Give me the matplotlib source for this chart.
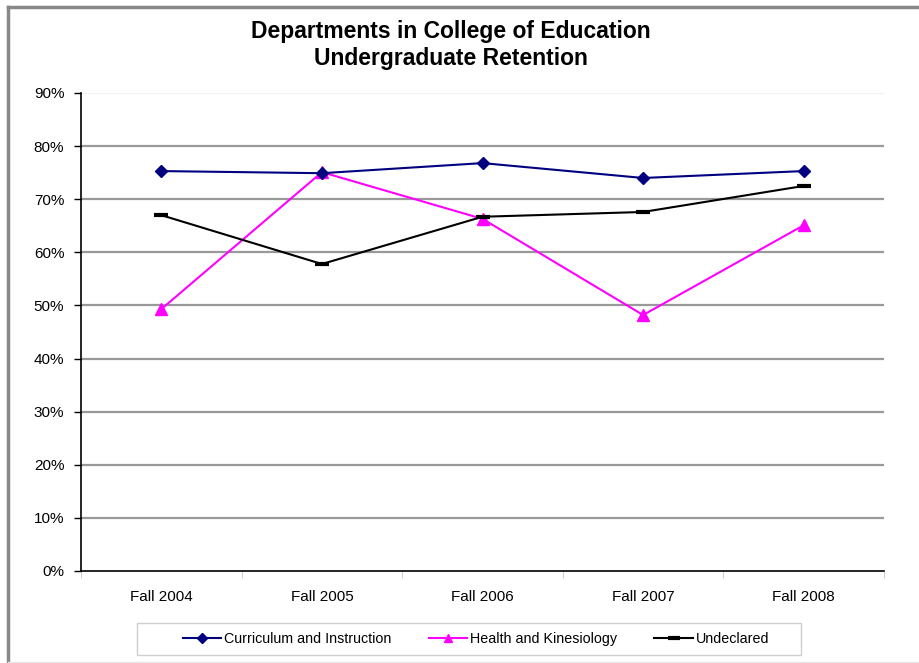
import matplotlib
matplotlib.use("Agg")
import matplotlib.pyplot as plt
from matplotlib.lines import Line2D
from matplotlib.patches import Rectangle

plt.rcParams['font.family'] = ['Liberation Sans', 'DejaVu Sans']

categories = ["Fall 2004", "Fall 2005", "Fall 2006", "Fall 2007", "Fall 2008"]
curriculum = [75.3, 74.9, 76.8, 74.0, 75.3]
health = [49.3, 75.1, 66.3, 48.2, 65.1]
undeclared = [67.0, 57.8, 66.7, 67.6, 72.5]
y_ticks = [0, 10, 20, 30, 40, 50, 60, 70, 80, 90]
y_labels = [f"{v}%" for v in y_ticks]

W, H = 920, 663
fig = plt.figure(figsize=(9.2, 6.63), dpi=100)
ax = fig.add_axes([81/W, 1-571/H, (884-81)/W, (571-93)/H])

x = list(range(len(categories)))
ax.plot(x, curriculum, color='#000080', lw=1.5, marker='D', ms=6.5,
        label='Curriculum and Instruction', zorder=4)
ax.plot(x, health, color='#FF00FF', lw=1.5, marker='^', ms=8,
        label='Health and Kinesiology', zorder=3)
ax.plot(x, undeclared, color='black', lw=1.5, marker='_', ms=10, mew=3,
        label='Undeclared', zorder=3)

ax.set_xlim(-0.5, len(categories) - 0.5)
ax.set_ylim(0, 90)
ax.set_yticks(y_ticks)
ax.set_yticklabels(y_labels, fontsize=11)
for v in y_ticks[1:-1]:
    ax.axhline(v, color='#999999', lw=1.6, zorder=1)
ax.axhline(90, color='#f0f0f0', lw=1.2, zorder=1)

ax.set_xticks(x)
ax.set_xticklabels(categories, fontsize=11)
ax.tick_params(axis='x', length=0, pad=14)
ax.set_xticks([i - 0.5 for i in range(len(categories) + 1)], minor=True)
ax.tick_params(axis='x', which='minor', length=5, color='#c8c8c8', direction='out')
ax.tick_params(axis='y', length=5, width=1, direction='out', pad=7)

for s in ['top', 'right']:
    ax.spines[s].set_visible(False)
ax.spines['left'].set_color('black')
ax.spines['bottom'].set_color('black')
ax.spines['left'].set_linewidth(1.2)
ax.spines['bottom'].set_linewidth(1.2)

fig.text(451/W, 1-45/H, "Departments in College of Education\nUndergraduate Retention",
         ha='center', va='center', fontsize=16.5, fontweight='bold', linespacing=1.25)

leg = fig.legend(loc='center', bbox_to_anchor=(476/W, 1-639/H), ncol=3,
                 fontsize=10.3, frameon=False, markerscale=0.8,
                 handlelength=2.7, columnspacing=2.6, handletextpad=0.2)
fig.add_artist(Rectangle((137/W, 1-655/H), (801-137)/W, 32/H, transform=fig.transFigure,
                         fill=False, edgecolor='#cfcfcf', lw=1))

# outer border
fig.add_artist(Line2D([8/W, 1], [1-7/H, 1-7/H], color='#888888', lw=2.5, transform=fig.transFigure))
fig.add_artist(Line2D([8/W, 8/W], [0, 1-7/H], color='#888888', lw=2.5, transform=fig.transFigure))
fig.add_artist(Line2D([8/W, 1], [1/H, 1/H], color='#e6e6e6', lw=1, transform=fig.transFigure))

fig.savefig("out.png", dpi=100)
